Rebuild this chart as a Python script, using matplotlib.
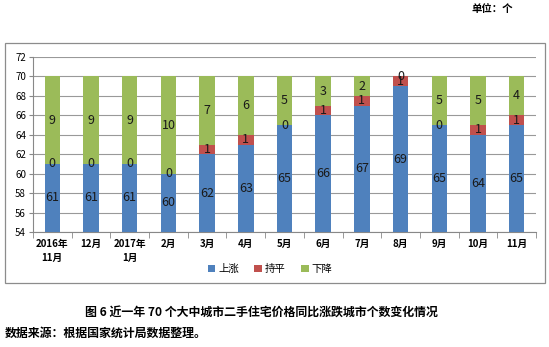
import matplotlib
matplotlib.use("Agg")
import matplotlib.pyplot as plt
from matplotlib.patches import Rectangle
import numpy as np

plt.rcParams['font.family'] = ['Noto Sans CJK SC', 'DejaVu Sans']

categories = ["2016年\n11月", "12月", "2017年\n1月", "2月", "3月", "4月", "5月",
              "6月", "7月", "8月", "9月", "10月", "11月"]
rise = [61, 61, 61, 60, 62, 63, 65, 66, 67, 69, 65, 64, 65]
flat = [0, 0, 0, 0, 1, 1, 0, 1, 1, 1, 0, 1, 1]
fall = [9, 9, 9, 10, 7, 6, 5, 3, 2, 0, 5, 5, 4]
series_names = ["上涨", "持平", "下降"]
colors = ["#4F81BD", "#C0504D", "#9BBB59"]

W, H = 549, 347
fig = plt.figure(figsize=(W / 100, H / 100), dpi=100)

# outer chart frame
fig.add_artist(Rectangle((5 / W, 1 - 283 / H), 540 / W, 240 / H, transform=fig.transFigure,
                         fill=False, edgecolor="#8c8c8c", linewidth=0.9))

ax = fig.add_axes([33 / W, 1 - 232 / H, (536 - 33) / W, (232 - 57) / H])
x = np.arange(len(categories))
base = 54
w = 0.4
rise_a = np.array(rise)
flat_a = np.array(flat)
fall_a = np.array(fall)
ax.bar(x, rise_a - base, w, bottom=base, color=colors[0], label=series_names[0], zorder=3)
ax.bar(x, flat_a, w, bottom=rise_a, color=colors[1], label=series_names[1], zorder=3)
ax.bar(x, fall_a, w, bottom=rise_a + flat_a, color=colors[2], label=series_names[2], zorder=3)

for i in range(len(x)):
    ax.text(x[i], (base + rise_a[i]) / 2, str(rise[i]), ha="center", va="center",
            fontsize=9, color="#1a1a1a", zorder=4)
    ax.text(x[i], rise_a[i] + flat_a[i] / 2, str(flat[i]), ha="center", va="center",
            fontsize=9, color="#1a1a1a", zorder=4)
    ax.text(x[i], rise_a[i] + flat_a[i] + fall_a[i] / 2, str(fall[i]), ha="center", va="center",
            fontsize=9, color="#1a1a1a", zorder=4)

ax.set_ylim(54, 72)
ax.set_yticks(range(54, 73, 2))
ax.set_xlim(-0.5, len(categories) - 0.5)
ax.yaxis.grid(True, color="#999999", linewidth=0.8, zorder=0)
ax.set_axisbelow(True)
for s in ["top", "right"]:
    ax.spines[s].set_visible(False)
for s in ["left", "bottom"]:
    ax.spines[s].set_color("#888888")
ax.tick_params(axis="y", labelsize=7, length=3, color="#888888", pad=2)
ax.set_xticks(x)
ax.set_xticklabels(categories, fontsize=7, fontweight="bold", linespacing=1.5)
ax.tick_params(axis="x", length=0, pad=5)
ax.set_xticks(np.arange(-0.5, len(categories), 1), minor=True)
ax.tick_params(axis="x", which="minor", length=4, color="#888888")

leg = fig.legend(loc="center", bbox_to_anchor=(270 / W, 1 - 269 / H), ncol=3, frameon=False,
                 fontsize=7.5, handlelength=0.7, handleheight=0.7, handletextpad=0.3,
                 columnspacing=1.5)

fig.text(513 / W, 1 - 9 / H, "单位：个", ha="right", va="center", fontsize=7.5, fontweight="bold")
fig.text(261 / W, 1 - 312 / H, "图 6 近一年 70 个大中城市二手住宅价格同比涨跌城市个数变化情况",
         ha="center", va="center", fontsize=8.6, fontweight="bold")
fig.text(5 / W, 1 - 333 / H, "数据来源：根据国家统计局数据整理。", ha="left", va="center",
         fontsize=8.6, fontweight="bold")

fig.savefig("out.png", dpi=100)
